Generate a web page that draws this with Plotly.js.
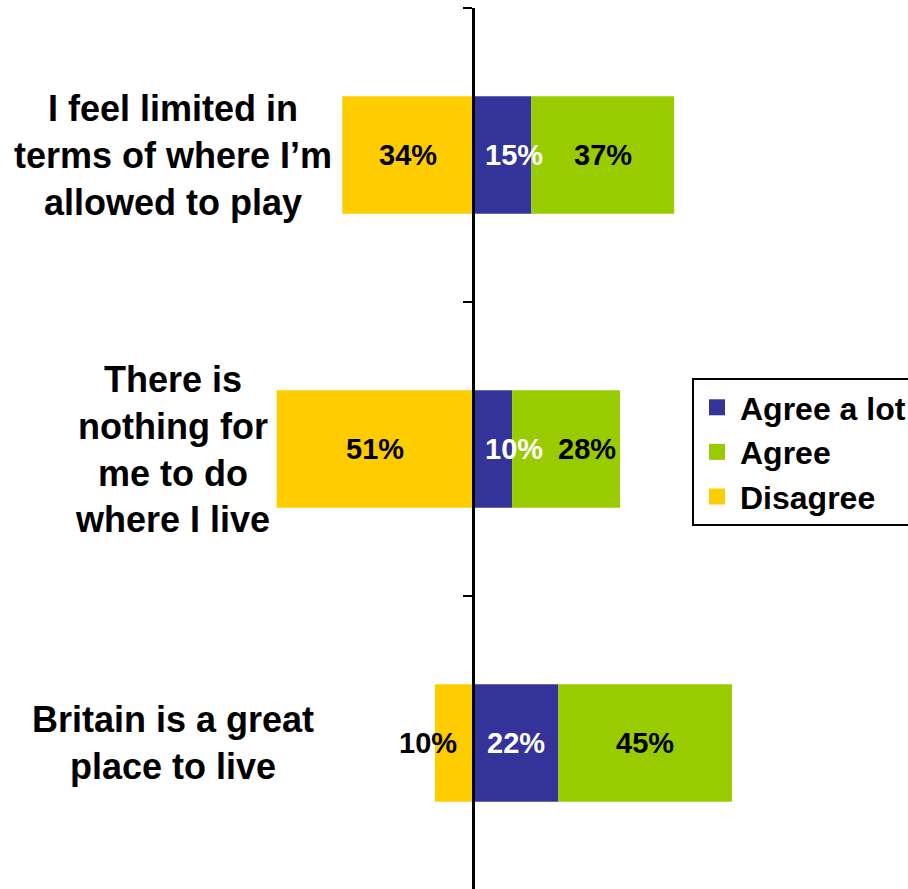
<!DOCTYPE html>
<html>
<head>
<meta charset="utf-8">
<script src="https://cdn.plot.ly/plotly-3.0.1.min.js"></script>
<style>html,body{margin:0;padding:0;background:#fff;}#chart{width:908px;height:889px;}</style>
</head>
<body>
<div id="chart"></div>
<script>
// ---- data ----
var categories = [
  "I feel limited in<br>terms of where I\u2019m<br>allowed to play",
  "There is<br>nothing for<br>me to do<br>where I live",
  "Britain is a great<br>place to live"
];
var seriesNames = ["Agree a lot", "Agree", "Disagree"];
var agreeALot = [15, 10, 22];
var agree = [37, 28, 45];
var disagree = [34, 51, 10];

// ---- styles ----
var colors = {"Agree a lot": "#333399", "Agree": "#99CC00", "Disagree": "#FFCC00"};
var FONT = "Liberation Sans, Arial, sans-serif";
var xMin = -122.7, xMax = 112.6;

var traces = [
  {type: "bar", orientation: "h", name: "Agree a lot", y: categories, x: agreeALot,
   marker: {color: colors["Agree a lot"]}, showlegend: false, hoverinfo: "skip"},
  {type: "bar", orientation: "h", name: "Agree", y: categories, x: agree,
   marker: {color: colors["Agree"]}, showlegend: false, hoverinfo: "skip"},
  {type: "bar", orientation: "h", name: "Disagree", y: categories, x: disagree.map(function(v){return -v;}),
   marker: {color: colors["Disagree"]}, showlegend: false, hoverinfo: "skip"}
];
// legend proxies
seriesNames.forEach(function(n){
  traces.push({type: "scatter", mode: "markers", name: n, x: [null], y: [null],
    marker: {symbol: "square", size: 21, color: colors[n]}, showlegend: true, hoverinfo: "skip"});
});

var annotations = [];
categories.forEach(function(c, i){
  // category label
  annotations.push({xref: "paper", yref: "y", x: 0.19, y: c, xanchor: "center", yanchor: "middle",
    text: c, showarrow: false, align: "center",
    font: {family: FONT, size: 36, color: "#000", weight: "bold"}});
  var dX = Math.min(-disagree[i] / 2, -11.8);
  var bX = Math.max(agreeALot[i] / 2, 10.5);
  var gX = Math.max(agreeALot[i] + agree[i] / 2, bX + 19);
  annotations.push({x: dX, y: c, xref: "x", yref: "y", text: disagree[i] + "%", showarrow: false,
    font: {family: FONT, size: 29, color: "#000", weight: "bold"}});
  annotations.push({x: bX, y: c, xref: "x", yref: "y", text: agreeALot[i] + "%", showarrow: false,
    font: {family: FONT, size: 29, color: "#fff", weight: "bold"}});
  annotations.push({x: gX, y: c, xref: "x", yref: "y", text: agree[i] + "%", showarrow: false,
    font: {family: FONT, size: 29, color: "#000", weight: "bold"}});
});

var layout = {
  width: 908, height: 889,
  margin: {l: 0, r: 0, t: 8, b: 0, pad: 0, autoexpand: false},
  paper_bgcolor: "#fff", plot_bgcolor: "#fff",
  barmode: "relative", bargap: 0.6,
  showlegend: true,
  font: {family: FONT, color: "#000"},
  xaxis: {range: [xMin, xMax], visible: false, fixedrange: true},
  yaxis: {type: "category", categoryorder: "array", categoryarray: categories,
    range: [2.4966, -0.5], anchor: "free", position: (0 - xMin) / (xMax - xMin),
    showline: true, linecolor: "#000", linewidth: 2.5,
    ticks: "outside", tickson: "boundaries", ticklen: 9, tickwidth: 2.5, tickcolor: "#000",
    showticklabels: false, showgrid: false, zeroline: false, fixedrange: true},
  legend: {x: 692 / 908, y: (889 - 378) / 881, xanchor: "left", yanchor: "top",
    bordercolor: "#000", borderwidth: 2, bgcolor: "#fff", traceorder: "normal",
    itemwidth: 36,
    font: {family: FONT, size: 32, color: "#000", weight: "bold"}, itemsizing: "trace"},
  annotations: annotations
};

Plotly.newPlot("chart", traces, layout, {displayModeBar: false, staticPlot: true});
</script>
</body>
</html>
